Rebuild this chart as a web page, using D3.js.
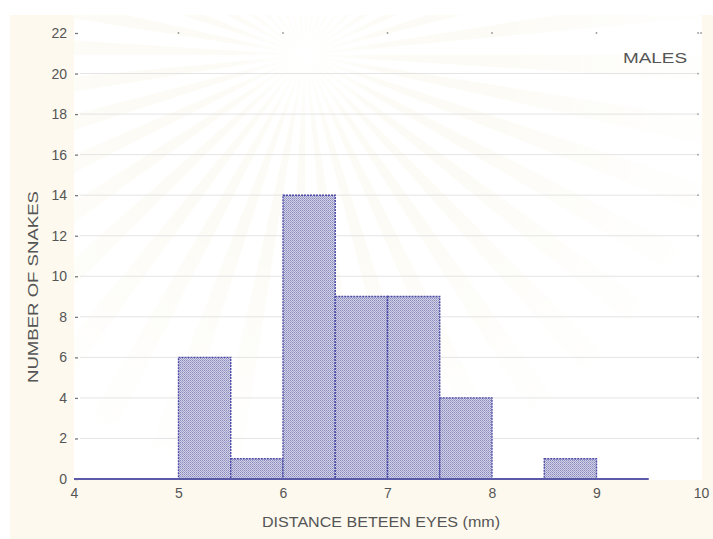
<!DOCTYPE html>
<html>
<head>
<meta charset="utf-8">
<script src="https://cdn.jsdelivr.net/npm/d3@7"></script>
<style>
  html, body { margin: 0; padding: 0; background: #ffffff; }
  svg { display: block; }
</style>
</head>
<body>
<svg id="chart" width="713" height="539"></svg>
<script>
// Histogram bins: distance between eyes (mm), lower/upper edges and counts
const binStart = [5.0, 5.5, 6.0, 6.5, 7.0, 7.5, 8.0, 8.5];
const binEnd   = [5.5, 6.0, 6.5, 7.0, 7.5, 8.0, 8.5, 9.0];
const counts   = [6, 1, 14, 9, 9, 4, 0, 1];
const xTicks = [4, 5, 6, 7, 8, 9, 10];
const yTicks = [0, 2, 4, 6, 8, 10, 12, 14, 16, 18, 20, 22];
const groupLabel = "MALES";
const xTitle = "DISTANCE BETEEN EYES (mm)";
const yTitle = "NUMBER OF SNAKES";

const svg = d3.select("#chart");
const W = 713, H = 539;
const FONT = "Liberation Sans, Arial, sans-serif";

const x = d3.scaleLinear().domain([4, 10]).range([74, 701]);
const y = d3.scaleLinear().domain([0, 22]).range([479, 33]);

// page backdrop
svg.append("rect").attr("x", 10).attr("y", 15).attr("width", W - 10).attr("height", H - 15)
  .attr("fill", "#fdf9ee");
svg.append("rect").attr("x", 74).attr("y", 15).attr("width", 628).attr("height", 465)
  .attr("fill", "#ffffff");

// very faint sunburst watermark behind the plot
const defs = svg.append("defs");
const clip = defs.append("clipPath").attr("id", "plotClip");
clip.append("rect").attr("x", 74).attr("y", 15).attr("width", 628).attr("height", 465);
const rays = svg.append("g").attr("clip-path", "url(#plotClip)");
const cx = 305, cy = 55;
const nRays = 40;
for (let i = 0; i < nRays; i++) {
  const a0 = (i / nRays) * Math.PI * 2;
  const a1 = a0 + Math.PI / nRays * 0.8;
  const R = 420;
  rays.append("path")
    .attr("d", `M${cx},${cy} L${cx + R * Math.cos(a0)},${cy + R * Math.sin(a0)} L${cx + R * Math.cos(a1)},${cy + R * Math.sin(a1)} Z`)
    .attr("fill", "#f6efdc").attr("opacity", 0.28);
}
const glow = defs.append("radialGradient").attr("id", "glow");
glow.append("stop").attr("offset", "0%").attr("stop-color", "#ffffff").attr("stop-opacity", 1);
glow.append("stop").attr("offset", "100%").attr("stop-color", "#ffffff").attr("stop-opacity", 0);
rays.append("circle").attr("cx", cx).attr("cy", cy).attr("r", 80).attr("fill", "url(#glow)");
const fade = defs.append("radialGradient").attr("id", "fade").attr("cx", cx).attr("cy", cy)
  .attr("r", 420).attr("gradientUnits", "userSpaceOnUse");
fade.append("stop").attr("offset", "40%").attr("stop-color", "#ffffff").attr("stop-opacity", 0);
fade.append("stop").attr("offset", "100%").attr("stop-color", "#ffffff").attr("stop-opacity", 0.9);
rays.append("rect").attr("x", 74).attr("y", 15).attr("width", 628).attr("height", 465).attr("fill", "url(#fade)");

// dotted hatch fill for the bars
const pat = defs.append("pattern").attr("id", "hatch")
  .attr("patternUnits", "userSpaceOnUse").attr("width", 2).attr("height", 2);
pat.append("rect").attr("width", 2).attr("height", 2).attr("fill", "#d2d2e6");
pat.append("rect").attr("x", 0).attr("y", 0).attr("width", 1).attr("height", 1).attr("fill", "#8a8abe");
pat.append("rect").attr("x", 1).attr("y", 1).attr("width", 1).attr("height", 1).attr("fill", "#a2a2cc");

// horizontal gridlines
svg.append("g").selectAll("line")
  .data(yTicks.filter(d => d > 0 && d < 22))
  .join("line")
  .attr("x1", x(4) + 6).attr("x2", x(10) - 4)
  .attr("y1", d => y(d)).attr("y2", d => y(d))
  .attr("stroke", "#e4e4e4").attr("stroke-width", 1);

// left axis: labels with short dash ticks
const yAxis = d3.axisLeft(y).tickValues(yTicks).tickSize(3).tickPadding(8);
const gy = svg.append("g").attr("transform", `translate(${x(4) + 4},0)`).call(yAxis);
gy.select(".domain").remove();
gy.selectAll(".tick line").attr("stroke", "#777").attr("stroke-width", 1.3);
gy.selectAll(".tick text")
  .attr("font-family", FONT)
  .attr("font-size", 14).attr("fill", "#555");

// right and top minor marks
svg.append("g").selectAll("circle")
  .data(yTicks.filter(d => d > 0))
  .join("circle")
  .attr("cx", x(10) - 3).attr("cy", d => y(d)).attr("r", 0.9).attr("fill", "#999");
svg.append("g").selectAll("circle")
  .data(xTicks.filter(d => d > 4))
  .join("circle")
  .attr("cx", d => x(d)).attr("cy", y(22)).attr("r", 0.9).attr("fill", "#999");

// bars
svg.append("g").selectAll("rect")
  .data(counts.map((c, i) => ({ a: binStart[i], b: binEnd[i], c })).filter(d => d.c > 0))
  .join("rect")
  .attr("x", d => x(d.a))
  .attr("y", d => y(d.c))
  .attr("width", d => x(d.b) - x(d.a))
  .attr("height", d => y(0) - y(d.c))
  .attr("fill", "url(#hatch)")
  .attr("stroke", "#4c4ca6").attr("stroke-width", 1.4)
  .attr("stroke-dasharray", "2,1");

// baseline across the binned range
svg.append("line")
  .attr("x1", x(4)).attr("x2", x(9.5))
  .attr("y1", y(0)).attr("y2", y(0))
  .attr("stroke", "#5a5aa8").attr("stroke-width", 2);

// bottom axis labels
const xAxis = d3.axisBottom(x).tickValues(xTicks).tickSize(0).tickPadding(9).tickFormat(d3.format("d"));
const gx = svg.append("g").attr("transform", `translate(0,${y(0)})`).call(xAxis);
gx.select(".domain").remove();
gx.selectAll(".tick text")
  .attr("font-family", FONT)
  .attr("font-size", 14).attr("fill", "#555");

// titles
svg.append("text")
  .attr("x", 262).attr("y", 527)
  .attr("textLength", 238).attr("lengthAdjust", "spacingAndGlyphs")
  .attr("font-family", FONT)
  .attr("font-size", 14).attr("fill", "#555")
  .text(xTitle);

svg.append("text")
  .attr("transform", `translate(38,383) rotate(-90)`)
  .attr("textLength", 192).attr("lengthAdjust", "spacingAndGlyphs")
  .attr("font-family", FONT)
  .attr("font-size", 14).attr("fill", "#555")
  .text(yTitle);

svg.append("text")
  .attr("x", 623).attr("y", 63)
  .attr("textLength", 64).attr("lengthAdjust", "spacingAndGlyphs")
  .attr("font-family", FONT)
  .attr("font-size", 14).attr("fill", "#555")
  .text(groupLabel);
</script>
</body>
</html>
